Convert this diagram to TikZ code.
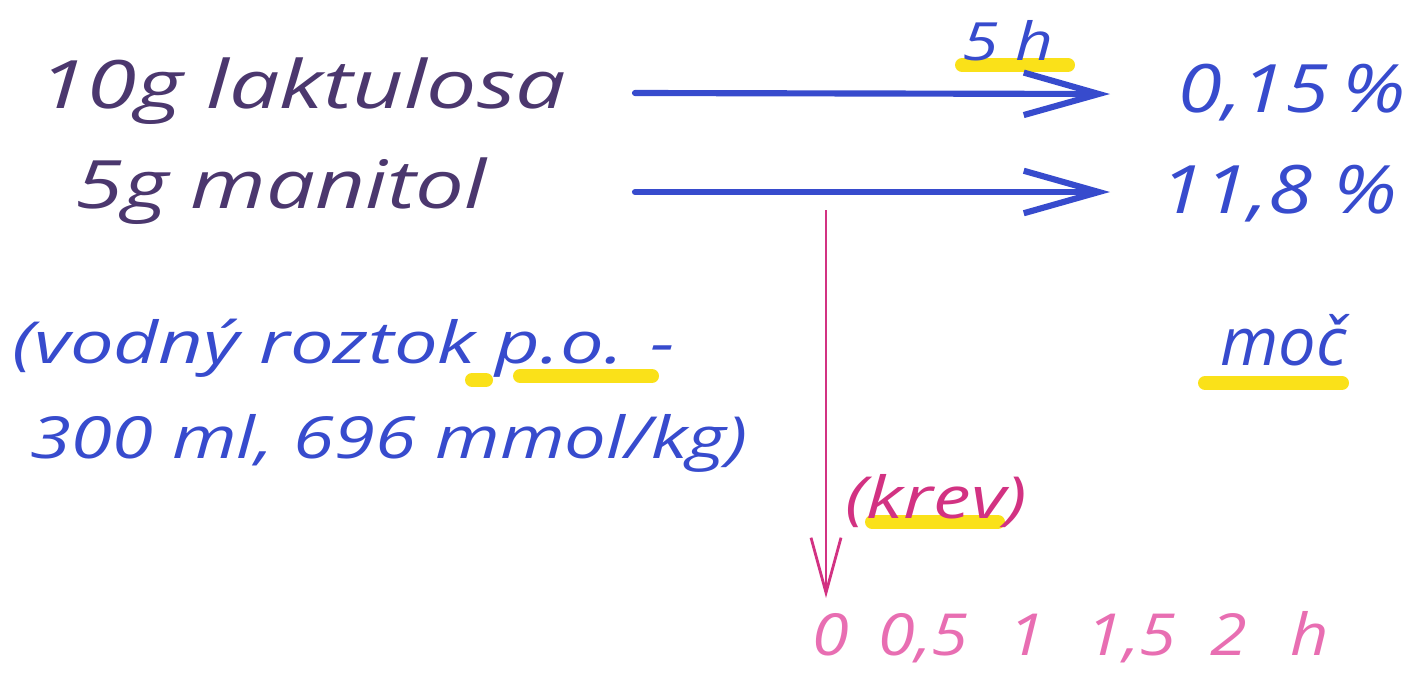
\documentclass[tikz,border=0pt]{standalone}
\usepackage{fontspec}
\setmainfont{Open Sans}
\usetikzlibrary{arrows.meta}
\definecolor{ink}{RGB}{75,55,110}
\definecolor{pen}{RGB}{55,75,205}
\definecolor{mag}{RGB}{210,50,130}
\definecolor{pinkpen}{RGB}{232,110,178}
\definecolor{hl}{RGB}{250,225,25}
\newcommand{\hs}[2]{\scalebox{#1}[1]{#2}}
\begin{document}
\begin{tikzpicture}[x=0.02cm,y=-0.02cm,
  txt/.style={inner sep=0pt, anchor=base west, font=\fontsize{38}{44}\selectfont\itshape},
  small/.style={txt, font=\fontsize{33}{40}\selectfont\itshape},
  tiny/.style={txt, font=\fontsize{30}{36}\selectfont\itshape},
  hilite/.style={hl, line width=0.28cm, line cap=round},
  barrow/.style={pen, line width=3.5pt, line cap=round, -{Straight Barb[length=1.5cm,width=0.85cm]}},
  marrow/.style={mag, line width=1.6pt, -{Straight Barb[length=1.1cm,width=0.6cm]}}]
\useasboundingbox (0,0) rectangle (1413,680);
% highlights
\draw[hilite] (962,65) -- (1068,65);
\draw[hilite] (472,380) -- (486,380);
\draw[hilite] (520,376) -- (652,376);
\draw[hilite] (1205,383) -- (1342,383);
\draw[hilite] (872,522) -- (998,522);
% texts
\node[txt, text=ink] (lak) at (38,108) {\hs{1.34}{10g laktulosa}};
\node[txt, text=ink] (man) at (75,208) {\hs{1.30}{5g manitol}};
\node[tiny, text=pen] (fiveh) at (962,60) {\hs{1.25}{5 h}};
\node[txt, text=pen] (p1) at (1178,112) {\hs{1.19}{0,15\,\%}};
\node[txt, text=pen] (p2) at (1160,213) {\hs{1.2}{11,8 \%}};
\node[small, text=pen] (vod) at (12,363) {\hs{1.34}{(vodný roztok p.o. -}};
\node[small, text=pen] (ml) at (30,458) {\hs{1.28}{300 ml, 696 mmol/kg)}};
\node[txt, text=pen] (moc) at (1220,365) {moč};
\node[small, text=mag] (krev) at (845,518) {\hs{1.3}{(krev)}};
\node[small, text=pinkpen] (t0) at (812,655) {\hs{1.15}{0}};
\node[small, text=pinkpen] (t05) at (878,655) {\hs{1.15}{0,5}};
\node[small, text=pinkpen] (t1) at (1008,655) {\hs{1.15}{1}};
\node[small, text=pinkpen] (t15) at (1086,655) {\hs{1.15}{1,5}};
\node[small, text=pinkpen] (t2) at (1210,655) {\hs{1.15}{2}};
\node[small, text=pinkpen] (th) at (1290,655) {\hs{1.15}{h}};
% connectors
\coordinate (a1s) at (635,93);
\coordinate (a1e) at (1110,94);
\coordinate (a2s) at (635,192);
\coordinate (a2e) at (1110,192);
\coordinate (ms) at (826,210);
\coordinate (me) at (826,598);
\draw[barrow] (a1s) -- (a1e);
\draw[barrow] (a2s) -- (a2e);
\draw[marrow] (ms) -- (me);
\end{tikzpicture}
\end{document}
